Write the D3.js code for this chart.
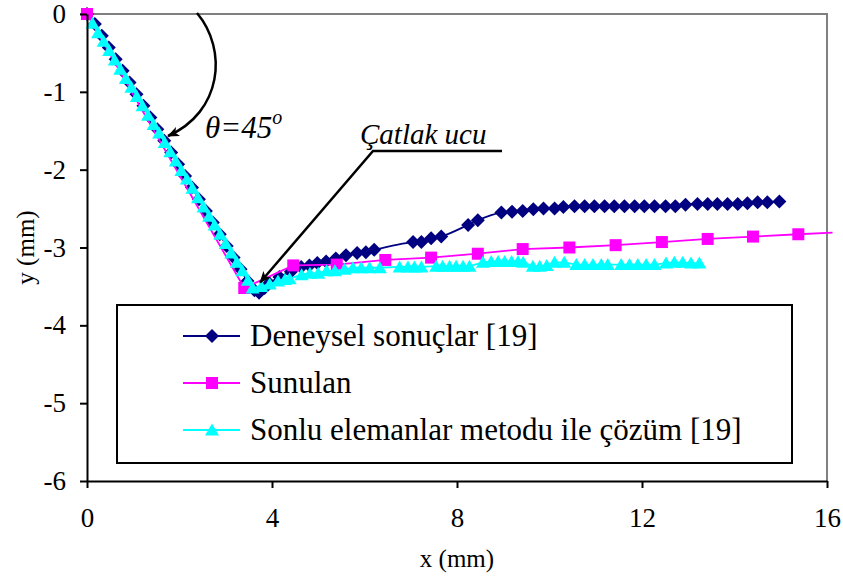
<!DOCTYPE html>
<html>
<head>
<meta charset="utf-8">
<script src="https://cdn.jsdelivr.net/npm/d3@7"></script>
<style>
  body { margin: 0; background: #fff; }
</style>
</head>
<body>
<div id="chart"></div>
<script>
// Deneysel sonuçlar [19]
const deneyselX = [0, 0.17, 0.32, 0.47, 0.62, 0.77, 0.92, 1.07, 1.22, 1.37, 1.52, 1.67, 1.82, 1.97, 2.12, 2.27, 2.42, 2.57, 2.72, 2.87, 3.02, 3.17, 3.32, 3.47, 3.62, 3.72,
  3.84, 3.94, 4.16, 4.41, 4.63, 4.81, 4.98, 5.17, 5.38, 5.60, 5.84, 6.03, 6.21, 7.05, 7.23, 7.44, 7.66, 8.24, 8.45,
  8.96, 9.19, 9.42, 9.65, 9.87, 10.11, 10.30, 10.54, 10.76, 10.97, 11.19, 11.40, 11.62, 11.84, 12.05, 12.27, 12.51, 12.72, 12.94, 13.20, 13.42, 13.63, 13.85, 14.07, 14.28, 14.50, 14.71, 14.97];
const deneyselY = [0, -0.13, -0.28, -0.43, -0.58, -0.73, -0.88, -1.03, -1.18, -1.33, -1.48, -1.63, -1.78, -1.93, -2.08, -2.23, -2.38, -2.53, -2.68, -2.83, -2.98, -3.13, -3.28, -3.43, -3.55, -3.58,
  -3.52, -3.46, -3.38, -3.31, -3.25, -3.23, -3.20, -3.18, -3.14, -3.10, -3.07, -3.06, -3.03, -2.93, -2.93, -2.88, -2.86, -2.71, -2.65,
  -2.55, -2.54, -2.53, -2.51, -2.50, -2.50, -2.48, -2.47, -2.47, -2.47, -2.47, -2.47, -2.47, -2.47, -2.47, -2.47, -2.47, -2.47, -2.45, -2.44, -2.44, -2.44, -2.44, -2.44, -2.43, -2.42, -2.42, -2.41];

// Sunulan
const sunulanX = [0, 3.40, 4.46, 5.40, 6.45, 7.44, 8.45, 9.42, 10.43, 11.43, 12.43, 13.42, 14.40, 15.38, 16.12];
const sunulanY = [0, -3.52, -3.23, -3.22, -3.16, -3.13, -3.08, -3.02, -3.00, -2.97, -2.93, -2.89, -2.86, -2.83, -2.81];

// Sonlu elemanlar metodu ile çözüm [19]
const sonluX = [0.12, 0.24, 0.36, 0.48, 0.60, 0.72, 0.84, 0.96, 1.08, 1.20, 1.32, 1.44, 1.56, 1.68, 1.80, 1.92, 2.04, 2.16, 2.28, 2.40, 2.52, 2.64, 2.76, 2.88, 3.00, 3.12, 3.24, 3.36, 3.48, 3.58,
  3.77, 3.95, 4.13, 4.28, 4.38, 4.64, 4.82, 5.00, 5.18, 5.36, 5.57, 5.75, 5.93, 6.11, 6.33, 6.76, 6.94, 7.08, 7.23, 7.55, 7.69, 7.84, 7.98, 8.13, 8.27,
  8.56, 8.74, 8.89, 9.03, 9.18, 9.32, 9.43, 9.64, 9.79, 9.94, 10.11, 10.32, 10.58, 10.76, 10.94, 11.12, 11.26, 11.55, 11.73, 11.91, 12.09, 12.27, 12.52, 12.70, 12.88, 13.06, 13.24];
const sonluY = [-0.12, -0.24, -0.35, -0.47, -0.59, -0.71, -0.83, -0.94, -1.06, -1.18, -1.30, -1.42, -1.53, -1.65, -1.77, -1.89, -2.01, -2.12, -2.24, -2.36, -2.48, -2.60, -2.71, -2.83, -2.95, -3.07, -3.19, -3.30, -3.42, -3.52,
  -3.50, -3.47, -3.43, -3.41, -3.40, -3.35, -3.33, -3.33, -3.30, -3.30, -3.28, -3.26, -3.26, -3.26, -3.26, -3.25, -3.25, -3.25, -3.25, -3.24, -3.24, -3.24, -3.24, -3.24, -3.24,
  -3.19, -3.18, -3.18, -3.18, -3.18, -3.18, -3.19, -3.24, -3.24, -3.23, -3.19, -3.19, -3.22, -3.22, -3.22, -3.22, -3.22, -3.22, -3.22, -3.22, -3.22, -3.22, -3.20, -3.19, -3.19, -3.20, -3.20];

const xTicks = [0, 4, 8, 12, 16];
const yTicks = [0, -1, -2, -3, -4, -5, -6];
const legendLabels = ["Deneysel sonuçlar [19]", "Sunulan", "Sonlu elemanlar metodu ile çözüm [19]"];

const W = 843, H = 579;
const plotLeft = 87, plotRight = 827, plotTop = 14, plotBottom = 481;
const serif = '"Liberation Serif"';

const svg = d3.select("#chart").append("svg")
  .attr("width", W).attr("height", H)
  .attr("font-family", serif);

svg.append("defs").append("marker")
  .attr("id", "arrow")
  .attr("viewBox", "0 0 12 10")
  .attr("refX", 11).attr("refY", 5)
  .attr("markerWidth", 12).attr("markerHeight", 10)
  .attr("markerUnits", "userSpaceOnUse")
  .attr("orient", "auto")
  .append("path")
  .attr("d", "M0,0 L12,5 L0,10 L3,5 Z")
  .attr("fill", "#000");

const x = d3.scaleLinear().domain([0, 16]).range([plotLeft, plotRight]);
const y = d3.scaleLinear().domain([-6, 0]).range([plotBottom, plotTop]);

// plot area border (grey top and right)
svg.append("path")
  .attr("d", `M${plotLeft},${plotTop} H${plotRight} V${plotBottom}`)
  .attr("fill", "none").attr("stroke", "#808080").attr("stroke-width", 2);

const diamond = "M0,-7L7,0L0,7L-7,0Z";
const square = "M-6,-6H6V6H-6Z";
const triangle = "M0,-6.5L7,5.5L-7,5.5Z";

const series = [
  { xs: deneyselX, ys: deneyselY, color: "#000080", shape: diamond, curve: d3.curveCatmullRom.alpha(0.5) },
  { xs: sunulanX, ys: sunulanY, color: "#ff00ff", shape: square, curve: d3.curveLinear },
  { xs: sonluX, ys: sonluY, color: "#00ffff", shape: triangle, curve: d3.curveLinear }
];

series.forEach(s => {
  const pts = s.xs.map((v, i) => ({ x: v, y: s.ys[i] }));
  const g = svg.append("g");
  g.append("path")
    .datum(pts)
    .attr("fill", "none")
    .attr("stroke", s.color)
    .attr("stroke-width", 1.8)
    .attr("d", d3.line().x(d => x(d.x)).y(d => y(d.y)).curve(s.curve));
  g.selectAll("path.m")
    .data(pts.filter(d => d.x <= 16))
    .join("path")
    .attr("class", "m")
    .attr("d", s.shape)
    .attr("transform", d => `translate(${x(d.x)},${y(d.y)})`)
    .attr("fill", s.color);
});

// axes
const yAxis = svg.append("g")
  .attr("transform", `translate(${plotLeft},0)`)
  .call(d3.axisLeft(y).tickValues(yTicks).tickFormat(d => String(d)).tickSize(7).tickSizeOuter(0).tickPadding(14));
const xAxis = svg.append("g")
  .attr("transform", `translate(0,${plotBottom})`)
  .call(d3.axisBottom(x).tickValues(xTicks).tickFormat(d => String(d)).tickSize(7).tickSizeOuter(0).tickPadding(20));
[xAxis, yAxis].forEach(a => {
  a.attr("font-family", serif).attr("font-size", 27);
  a.select(".domain").attr("stroke", "#000").attr("stroke-width", 2);
  a.selectAll(".tick line").attr("stroke", "#000").attr("stroke-width", 2);
  a.selectAll(".tick text").attr("fill", "#000");
});

svg.append("text")
  .attr("x", (plotLeft + plotRight) / 2).attr("y", 567)
  .attr("text-anchor", "middle")
  .attr("font-size", 25)
  .text("x (mm)");
svg.append("text")
  .attr("transform", `translate(34,${(plotTop + plotBottom) / 2}) rotate(-90)`)
  .attr("text-anchor", "middle")
  .attr("font-size", 25)
  .text("y (mm)");

// annotations
svg.append("path")
  .attr("d", "M197,13 C228,50 222,112 168,136")
  .attr("fill", "none").attr("stroke", "#000").attr("stroke-width", 2.5)
  .attr("marker-end", "url(#arrow)");
const theta = svg.append("text")
  .attr("x", 205).attr("y", 138)
  .attr("font-size", 31).attr("font-style", "italic");
theta.append("tspan").text("θ=45");
theta.append("tspan").attr("dy", -14).attr("font-size", 20).text("o");

svg.append("text")
  .attr("x", 360).attr("y", 144)
  .attr("font-size", 29).attr("font-style", "italic")
  .text("Çatlak ucu");
svg.append("path")
  .attr("d", `M502,151 H373 L${x(3.72) + 1},${y(-3.45)}`)
  .attr("fill", "none").attr("stroke", "#000").attr("stroke-width", 2.5)
  .attr("marker-end", "url(#arrow)");

// legend
const lg = svg.append("g");
lg.append("rect")
  .attr("x", 117).attr("y", 305).attr("width", 675).attr("height", 158)
  .attr("fill", "#fff").attr("stroke", "#000").attr("stroke-width", 2);
legendLabels.forEach((lab, i) => {
  const s = series[i];
  const cy = 336 + i * 47;
  lg.append("line")
    .attr("x1", 183).attr("x2", 240).attr("y1", cy).attr("y2", cy)
    .attr("stroke", s.color).attr("stroke-width", 1.8);
  lg.append("path")
    .attr("d", s.shape)
    .attr("transform", `translate(212,${cy})`)
    .attr("fill", s.color);
  lg.append("text")
    .attr("x", 250).attr("y", cy + 10)
    .attr("font-size", 31)
    .text(lab);
});
</script>
</body>
</html>
